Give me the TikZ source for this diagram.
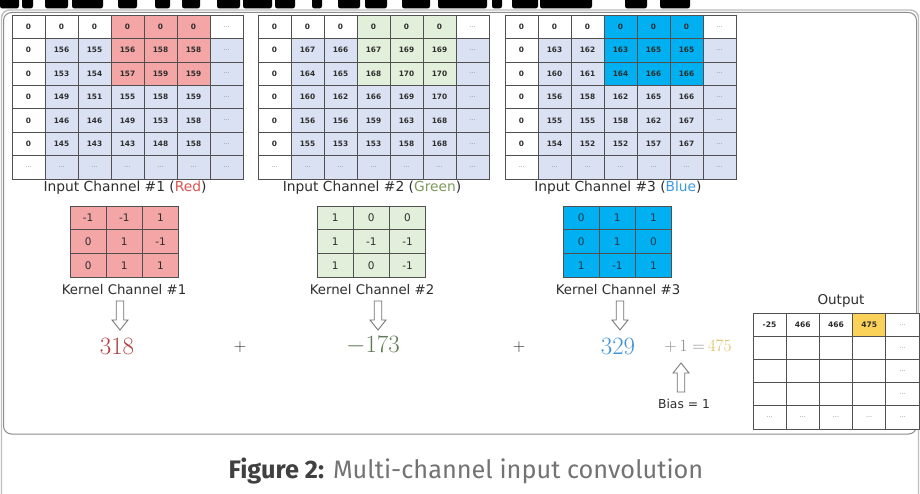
\documentclass[tikz,border=0pt]{standalone}
\usepackage{fontspec}
\setmainfont{DejaVu Sans}
\newfontfamily\capfont{Fira Sans}
\usetikzlibrary{calc}

\definecolor{cellblue}{HTML}{D9E1F2}
\definecolor{hired}{HTML}{F4A5A5}
\definecolor{higreen}{HTML}{E2EFDA}
\definecolor{hiblue}{HTML}{00B0F0}
\definecolor{hiyellow}{HTML}{FAD25A}
\definecolor{gridline}{HTML}{505050}
\definecolor{txt}{HTML}{2E2E2E}
\definecolor{dotgray}{HTML}{8A8A8A}
\definecolor{redtxt}{HTML}{B33C3C}
\definecolor{greentxt}{HTML}{5D7A55}
\definecolor{bluetxt}{HTML}{3C92D6}
\definecolor{goldtxt}{HTML}{DDBE62}
\definecolor{redlbl}{HTML}{D9534F}
\definecolor{greenlbl}{HTML}{7E9A5C}
\definecolor{bluelbl}{HTML}{3D9BDB}
\definecolor{framecol}{HTML}{8C8C8C}
\definecolor{outerframe}{HTML}{BDBDBD}
\definecolor{arrowcol}{HTML}{707070}
\definecolor{kbluetxt}{HTML}{26384F}

\tikzset{
  cell/.style={draw=gridline, line width=0.7pt, inner sep=0pt,
    minimum width=33pt, minimum height=23.43pt, text=txt,
    font=\fontsize{7.4}{8}\selectfont\bfseries},
  dots/.style={text=dotgray, font=\fontsize{6.5}{7}\selectfont},
  kcell/.style={draw=gridline, line width=0.7pt, inner sep=0pt,
    minimum width=36.2pt, minimum height=23.7pt, text=txt,
    font=\fontsize{10.5}{11}\selectfont},
  ocell/.style={draw=gridline, line width=0.7pt, inner sep=0pt, fill=white,
    minimum width=33.2pt, minimum height=23.2pt, text=txt,
    font=\fontsize{7.6}{8}\selectfont\bfseries},
  lbl/.style={font=\fontsize{13.8}{15}\selectfont, text=txt, inner sep=0pt},
  klbl/.style={font=\fontsize{13.3}{15}\selectfont, text=txt, inner sep=0pt},
  resnum/.style={font=\fontsize{24}{26}\selectfont, inner sep=0pt},
  plussign/.style={font=\fontsize{17}{19}\selectfont, text=txt, inner sep=0pt},
  hollow/.style={draw=arrowcol, line width=0.8pt, fill=white, line join=miter},
  pics/downarrow/.style={code={
    \draw[hollow] (-3.8,0) -- (-3.8,19) -- (-8,19) -- (0,29) -- (8,19)
      -- (3.8,19) -- (3.8,0) -- cycle;}},
  pics/uparrow/.style={code={
    \draw[hollow] (-3.8,0) -- (-3.8,-19) -- (-8,-19) -- (0,-29) -- (8,-19)
      -- (3.8,-19) -- (3.8,0) -- cycle;}},
}

% one padded input channel: name, left edge, highlight colour, inner values
\newcommand\inputgrid[4]{%
  \foreach \c in {0,...,5}{
    \ifnum\c>2 \def\cf{#3}\else\def\cf{white}\fi
    \node[cell, fill=\cf] (#1-0-\c) at ({#2+33*(\c+0.5)},{15+23.43*0.5}) {0};
  }
  \node[cell, dots, fill=white] (#1-0-6) at ({#2+33*6.5},{15+23.43*0.5}) {...};
  \foreach \row [count=\r] in {#4}{
    \node[cell, fill=white] (#1-\r-0) at ({#2+16.5},{15+23.43*(\r+0.5)}) {0};
    \foreach \v [count=\c] in \row {
      \ifnum\r<3 \ifnum\c>2 \def\cf{#3}\else\def\cf{cellblue}\fi
      \else\def\cf{cellblue}\fi
      \node[cell, fill=\cf] (#1-\r-\c) at ({#2+33*(\c+0.5)},{15+23.43*(\r+0.5)}) {\v};
    }
    \node[cell, dots, fill=cellblue] (#1-\r-6) at ({#2+33*6.5},{15+23.43*(\r+0.5)}) {...};
  }
  \node[cell, dots, fill=white] (#1-6-0) at ({#2+16.5},{15+23.43*6.5}) {...};
  \foreach \c in {1,...,6}{
    \node[cell, dots, fill=cellblue] (#1-6-\c) at ({#2+33*(\c+0.5)},{15+23.43*6.5}) {...};
  }
}

% one 3x3 kernel: name, left edge, fill, text colour, values
\newcommand\kernelgrid[5]{%
  \foreach \row [count=\r] in {#5}{
    \foreach \v [count=\c] in \row {
      \node[kcell, fill=#3, text=#4] (#1-\r-\c)
        at ({#2+36.2*(\c-0.5)},{206+23.7*(\r-0.5)}) {\v};
    }
  }
}

\begin{document}
\begin{tikzpicture}[x=1pt,y=-1pt]
\useasboundingbox (0,0) rectangle (920,494);
\fill[white] (0,0) rectangle (920,494);

% lower edge of the heading lettering above the figure
\foreach \a/\b in {0/19,22/33,45/68,72/103,118/137,155/170,182/200,217/240,
  243/272,275/295,312/322,338/360,365/387,402/430,438/487,492/502,512/538,
  540/592,625/647,660/690}
  \fill[black, rounded corners=2.5pt] (\a,-6) rectangle (\b,8.5);

% frames
\draw[outerframe, line width=1.4pt, rounded corners=8pt] (1.5,10) rectangle (918.5,520);
\draw[framecol, line width=1pt, rounded corners=8pt] (3.5,12.5) rectangle (916.5,434);

% input channels
\inputgrid{inA}{12}{hired}{{156,155,156,158,158},{153,154,157,159,159},
  {149,151,155,158,159},{146,146,149,153,158},{145,143,143,148,158}}
\inputgrid{inB}{258}{higreen}{{167,166,167,169,169},{164,165,168,170,170},
  {160,162,166,169,170},{156,156,159,163,168},{155,153,153,158,168}}
\inputgrid{inC}{505}{hiblue}{{163,162,163,165,165},{160,161,164,166,166},
  {156,158,162,165,166},{155,155,158,162,167},{154,152,152,157,167}}

\node[lbl] (labA) at (125,188) {Input Channel \#1 (\textcolor{redlbl}{Red})};
\node[lbl] (labB) at (372,188) {Input Channel \#2 (\textcolor{greenlbl}{Green})};
\node[lbl] (labC) at (618,188) {Input Channel \#3 (\textcolor{bluelbl}{Blue})};

% kernels
\kernelgrid{kA}{70}{hired}{txt}{{-1,-1,1},{0,1,-1},{0,1,1}}
\kernelgrid{kB}{317}{higreen}{txt}{{1,0,0},{1,-1,-1},{1,0,-1}}
\kernelgrid{kC}{563}{hiblue}{kbluetxt}{{0,1,1},{0,1,0},{1,-1,1}}

\node[klbl] (klabA) at (124,290) {Kernel Channel \#1};
\node[klbl] (klabB) at (372,290) {Kernel Channel \#2};
\node[klbl] (klabC) at (618,290) {Kernel Channel \#3};

% per-channel results
\pic (arrA) at (120,301) {downarrow};
\pic (arrB) at (378,301) {downarrow};
\pic (arrC) at (620,301) {downarrow};

\node[resnum, text=redtxt] (sumA) at (117,346) {$318$};
\node[plussign] (plusA) at (240,347) {$+$};
\node[resnum, text=greentxt] (sumB) at (373,346) {$-173$};
\node[plussign] (plusB) at (519,347) {$+$};
\node[resnum, text=bluetxt] (sumC) at (618,346) {$329$};
\node[font=\fontsize{17.5}{19}\selectfont, inner sep=0pt] (total) at (698,346)
  {\textcolor{dotgray}{$+\,1=$}\,\textcolor{goldtxt}{$475$}};

\pic (arrBias) at (681,392) {uparrow};
\node[lbl, font=\fontsize{12.3}{14}\selectfont] (bias) at (684,404) {Bias = 1};

% output feature map
\node[lbl, font=\fontsize{13.5}{15}\selectfont] (outlab) at (841,301) {Output};
\foreach \v [count=\c] in {-25,466,466} {
  \node[ocell] (out-0-\c) at ({753+33.2*(\c-0.5)},{313+11.6}) {\v};
}
\node[ocell, fill=hiyellow] (out-0-4) at ({753+33.2*3.5},{313+11.6}) {475};
\node[ocell, dots] (out-0-5) at ({753+33.2*4.5},{313+11.6}) {...};
\foreach \r in {1,2,3}{
  \foreach \c in {1,...,4}{
    \node[ocell] (out-\r-\c) at ({753+33.2*(\c-0.5)},{313+23.2*(\r+0.5)}) {};
  }
  \node[ocell, dots] (out-\r-5) at ({753+33.2*4.5},{313+23.2*(\r+0.5)}) {...};
}
\foreach \c in {1,...,5}{
  \node[ocell, dots] (out-4-\c) at ({753+33.2*(\c-0.5)},{313+23.2*4.5}) {...};
}

% caption
\node[font=\capfont\fontsize{25.3}{30}\selectfont, inner sep=0pt] (caption) at (466,471)
  {\textcolor{black!75}{\bfseries Figure 2:} \textcolor{black!55}{Multi-channel input convolution}};
\end{tikzpicture}
\end{document}
